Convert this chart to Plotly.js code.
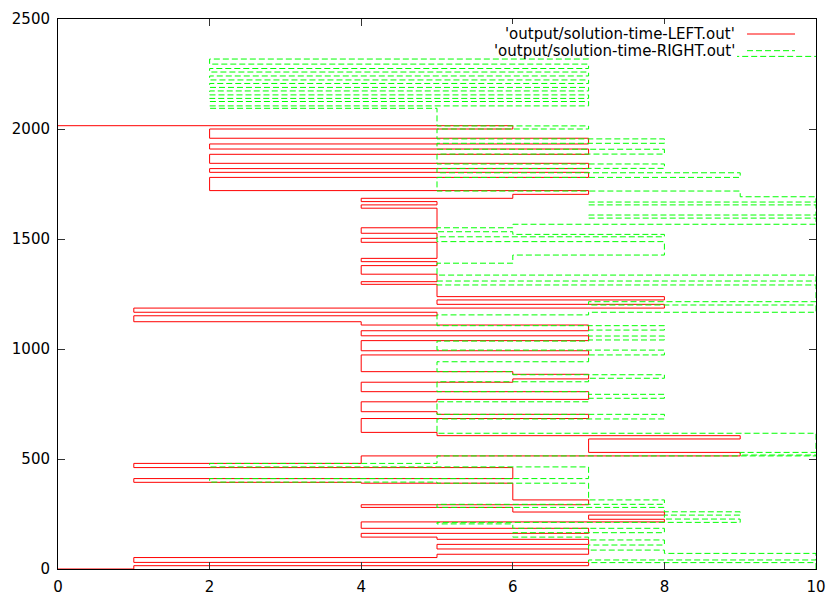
<!DOCTYPE html>
<html>
<head>
<meta charset="utf-8">
<script src="https://cdn.plot.ly/plotly-3.0.1.min.js"></script>
<style>html,body{margin:0;padding:0;background:#fff;}#chart{width:831px;height:598px;}</style>
</head>
<body>
<div id="chart"></div>
<script>
// LEFT series: level (x) at each change time (y)
const leftLevel = [0,1,7,1,5,7,5,7,5,4,7,4,8,7,8,6,4,7,6,4,1,6,1,4,9,7,9,5,4,7,5,4,5,7,4,6,7,6,4,7,4,7,4,7,4,1,5,1,8,5,8,5,4,5,4,5,4,5,4,5,4,5,4,5,4,6,7,2,7,2,7,2,7,2,7,2,6,0];
const leftTime  = [0,0,15,30,52,67,91,112,135,145,162,185,214,226,245,259,280,292,314,390,394,411,461,480,514,530,591,606,621,684,703,715,760,771,806,849,864,885,897,973,992,1038,1060,1083,1109,1124,1151,1167,1186,1203,1223,1238,1294,1306,1340,1379,1397,1412,1485,1503,1526,1551,1640,1655,1670,1685,1703,1720,1780,1803,1820,1844,1885,1909,1932,1958,2000,2015];
// RIGHT series
const rightLevel = [10,7,10,8,7,8,7,6,8,6,5,9,8,9,8,5,8,7,5,2,7,2,5,10,9,10,5,8,5,7,8,7,5,7,8,6,5,7,8,5,7,8,7,8,5,7,10,7,10,5,10,5,6,8,5,8,6,5,6,10,7,10,7,10,9,5,9,5,8,5,8,5,8,5,7,5,2,7,2,7,2,7,2,7,2,7,2,7,2,7,10];
const rightTime  = [0,29,41,71,86,109,132,145,165,185,205,212,227,245,260,280,294,314,390,395,411,464,480,514,518,530,617,682,703,760,776,794,806,851,867,883,897,942,973,995,1036,1041,1059,1086,1106,1155,1167,1200,1215,1291,1309,1336,1390,1427,1488,1510,1521,1533,1551,1567,1595,1609,1655,1668,1692,1718,1780,1801,1821,1841,1886,1908,1935,1955,2000,2014,2094,2105,2125,2139,2155,2173,2189,2207,2223,2241,2259,2275,2295,2318,2330];
const seriesNames = ["'output/solution-time-LEFT.out'", "'output/solution-time-RIGHT.out'"];
const xTicks = [0,2,4,6,8,10];
const yTicks = [0,500,1000,1500,2000,2500];

const traces = [
  {x: leftLevel, y: leftTime, mode: 'lines', name: seriesNames[0],
   line: {color: '#ff0000', width: 1, shape: 'vh'}, hoverinfo: 'skip'},
  {x: rightLevel, y: rightTime, mode: 'lines', name: seriesNames[1],
   line: {color: '#00ff00', width: 1, shape: 'vh', dash: '6px,3px'}, hoverinfo: 'skip'}
];
const font = {family: 'DejaVu Sans, Liberation Sans, sans-serif', size: 15, color: '#000'};
const axisCommon = {
  showgrid: false, zeroline: false, showline: true, linecolor: '#000', linewidth: 1,
  mirror: 'ticks', ticks: 'inside', ticklen: 7, tickcolor: '#333', tickwidth: 1,
  tickfont: font
};
const layout = {
  width: 831, height: 598,
  margin: {l: 58, r: 15, t: 19, b: 29},
  paper_bgcolor: '#fff', plot_bgcolor: '#fff',
  showlegend: false,
  xaxis: Object.assign({}, axisCommon, {range: [0, 10], tickvals: xTicks, ticktext: xTicks.map(String), ticklabelstandoff: 4}),
  yaxis: Object.assign({}, axisCommon, {range: [0, 2500], tickvals: yTicks, ticktext: yTicks.map(String), ticklabelstandoff: 4}),
  annotations: [
    {xref: 'paper', yref: 'paper', x: 0.8958, y: 0.9727, xanchor: 'right', yanchor: 'middle', showarrow: false, text: seriesNames[0], font: font},
    {xref: 'paper', yref: 'paper', x: 0.8958, y: 0.9424, xanchor: 'right', yanchor: 'middle', showarrow: false, text: seriesNames[1], font: font}
  ],
  shapes: [
    // opaque key background
    {type: 'rect', xref: 'paper', yref: 'paper', x0: 0.57, x1: 0.8958, y0: 0.9291, y1: 0.991, line: {width: 0}, fillcolor: '#ffffff', layer: 'above'},
    {type: 'line', xref: 'paper', yref: 'paper', x0: 0.909, x1: 0.9723, y0: 0.9727, y1: 0.9727, line: {color: '#ff0000', width: 1}},
    {type: 'line', xref: 'paper', yref: 'paper', x0: 0.909, x1: 0.9723, y0: 0.9424, y1: 0.9424, line: {color: '#00ff00', width: 1, dash: '6px,3px'}}
  ]
};
Plotly.newPlot('chart', traces, layout, {staticPlot: true, displayModeBar: false});
</script>
</body>
</html>
